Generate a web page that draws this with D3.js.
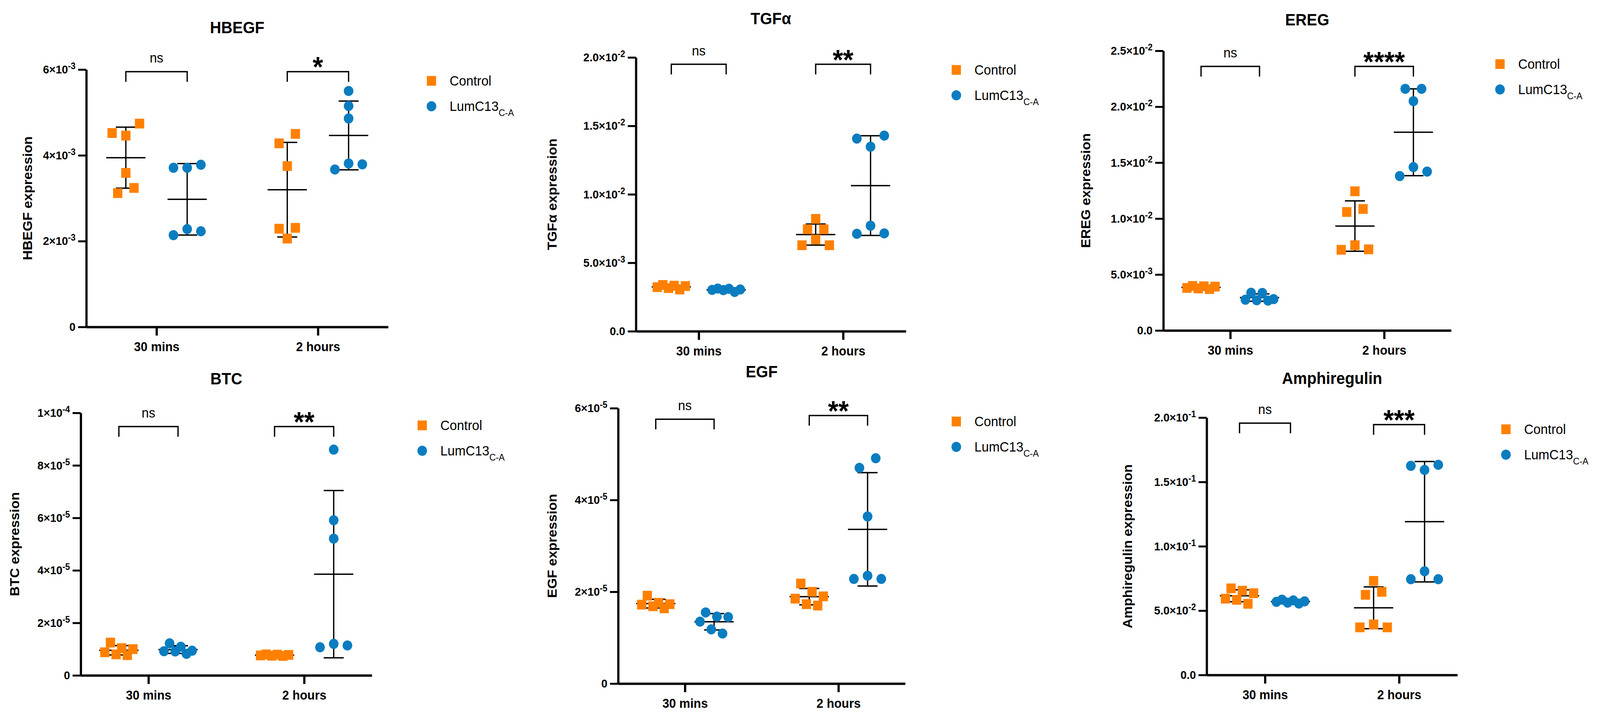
<!DOCTYPE html>
<html>
<head>
<meta charset="utf-8">
<script src="https://cdn.jsdelivr.net/npm/d3@7"></script>
<style>
  html, body { margin: 0; padding: 0; background: #fff; overflow: hidden; }
  svg { display: block; width: 100vw; height: 100vh; font-family: "Liberation Sans", Arial, sans-serif; }
</style>
</head>
<body>
<svg id="chart" viewBox="0 0 4320 1833" preserveAspectRatio="none"></svg>
<script>
// Categories and series
const categories = ["30 mins", "2 hours"];
const seriesNames = ["Control", "LumC13"];
const seriesSubs = ["", "C-A"];
const seriesColors = ["#FF8000", "#0A7DC0"];

// Values, one inner list per time point
const hbegfControl = [[4.74e-3, 4.52e-3, 4.46e-3, 3.59e-3, 3.24e-3, 3.12e-3], [4.50e-3, 4.28e-3, 3.75e-3, 2.31e-3, 2.29e-3, 2.06e-3]];
const hbegfLumC    = [[3.78e-3, 3.71e-3, 3.71e-3, 2.28e-3, 2.23e-3, 2.14e-3], [5.50e-3, 5.15e-3, 4.86e-3, 3.81e-3, 3.79e-3, 3.67e-3]];

const tgfControl = [[3.15e-3, 3.38e-3, 3.30e-3, 3.05e-3, 3.33e-3, 3.22e-3], [8.21e-3, 7.45e-3, 7.45e-3, 6.70e-3, 6.28e-3, 6.28e-3]];
const tgfLumC    = [[3.05e-3, 3.10e-3, 3.00e-3, 3.12e-3, 2.87e-3, 3.02e-3], [14.29e-3, 14.07e-3, 13.48e-3, 7.71e-3, 7.15e-3, 7.12e-3]];

const eregControl = [[3.75e-3, 3.98e-3, 3.95e-3, 3.70e-3, 3.92e-3, 3.80e-3], [12.44e-3, 10.86e-3, 10.59e-3, 7.62e-3, 7.21e-3, 7.25e-3]];
const eregLumC    = [[3.37e-3, 3.35e-3, 2.70e-3, 2.75e-3, 2.67e-3, 2.80e-3], [21.6e-3, 21.6e-3, 20.5e-3, 14.6e-3, 14.2e-3, 13.8e-3]];

const btcControl = [[1.25e-5, 1.04e-5, 1.00e-5, 0.88e-5, 0.80e-5, 0.77e-5], [0.80e-5, 0.78e-5, 0.76e-5, 0.74e-5, 0.79e-5, 0.75e-5]];
const btcLumC    = [[0.92e-5, 1.22e-5, 0.91e-5, 1.09e-5, 0.82e-5, 0.94e-5], [8.60e-5, 5.91e-5, 5.21e-5, 1.20e-5, 1.14e-5, 1.07e-5]];

const egfControl = [[1.685e-5, 1.76e-5, 1.72e-5, 1.73e-5, 1.915e-5, 1.64e-5], [2.18e-5, 2.00e-5, 1.90e-5, 1.85e-5, 1.73e-5, 1.70e-5]];
const egfLumC    = [[1.35e-5, 1.55e-5, 1.45e-5, 1.46e-5, 1.18e-5, 1.09e-5], [4.91e-5, 4.70e-5, 3.64e-5, 2.35e-5, 2.28e-5, 2.28e-5]];

const amphControl = [[6.73e-2, 6.55e-2, 6.35e-2, 5.93e-2, 5.84e-2, 5.53e-2], [7.31e-2, 6.46e-2, 6.23e-2, 3.93e-2, 3.70e-2, 3.70e-2]];
const amphLumC    = [[5.80e-2, 5.72e-2, 5.85e-2, 5.55e-2, 5.62e-2, 5.68e-2], [16.33e-2, 16.25e-2, 15.93e-2, 8.06e-2, 7.44e-2, 7.44e-2]];

// Tick values and labels ("^" marks the exponent)
const hbegfTicks = [0, 2e-3, 4e-3, 6e-3];
const hbegfTickLabels = ["0", "2×10^-3", "4×10^-3", "6×10^-3"];
const tgfTicks = [0, 5e-3, 1e-2, 1.5e-2, 2e-2];
const tgfTickLabels = ["0.0", "5.0×10^-3", "1.0×10^-2", "1.5×10^-2", "2.0×10^-2"];
const eregTicks = [0, 5e-3, 1e-2, 1.5e-2, 2e-2, 2.5e-2];
const eregTickLabels = ["0.0", "5.0×10^-3", "1.0×10^-2", "1.5×10^-2", "2.0×10^-2", "2.5×10^-2"];
const btcTicks = [0, 2e-5, 4e-5, 6e-5, 8e-5, 1e-4];
const btcTickLabels = ["0", "2×10^-5", "4×10^-5", "6×10^-5", "8×10^-5", "1×10^-4"];
const egfTicks = [0, 2e-5, 4e-5, 6e-5];
const egfTickLabels = ["0", "2×10^-5", "4×10^-5", "6×10^-5"];
const amphTicks = [0, 5e-2, 1e-1, 1.5e-1, 2e-1];
const amphTickLabels = ["0.0", "5.0×10^-2", "1.0×10^-1", "1.5×10^-1", "2.0×10^-1"];

// Significance labels and bracket heights (data units)
const hbegfSig = ["ns", "*"],    hbegfBracket = [5.95e-3, 5.95e-3];
const tgfSig = ["ns", "**"],     tgfBracket = [1.95e-2, 1.95e-2];
const eregSig = ["ns", "****"],  eregBracket = [2.36e-2, 2.36e-2];
const btcSig = ["ns", "**"],     btcBracket = [9.48e-5, 9.48e-5];
const egfSig = ["ns", "**"],     egfBracket = [5.76e-5, 5.84e-5];
const amphSig = ["ns", "***"],   amphBracket = [1.957e-1, 1.945e-1];

const panels = [
  {title: "HBEGF", yLabel: "HBEGF expression", series: [hbegfControl, hbegfLumC], ticks: hbegfTicks, tickLabels: hbegfTickLabels, sig: hbegfSig, bracket: hbegfBracket},
  {title: "TGFα", yLabel: "TGFα expression", series: [tgfControl, tgfLumC], ticks: tgfTicks, tickLabels: tgfTickLabels, sig: tgfSig, bracket: tgfBracket},
  {title: "EREG", yLabel: "EREG expression", series: [eregControl, eregLumC], ticks: eregTicks, tickLabels: eregTickLabels, sig: eregSig, bracket: eregBracket},
  {title: "BTC", yLabel: "BTC expression", series: [btcControl, btcLumC], ticks: btcTicks, tickLabels: btcTickLabels, sig: btcSig, bracket: btcBracket},
  {title: "EGF", yLabel: "EGF expression", series: [egfControl, egfLumC], ticks: egfTicks, tickLabels: egfTickLabels, sig: egfSig, bracket: egfBracket},
  {title: "Amphiregulin", yLabel: "Amphiregulin expression", series: [amphControl, amphLumC], ticks: amphTicks, tickLabels: amphTickLabels, sig: amphSig, bracket: amphBracket}
];

// Where each panel sits on the page
const frames = [
  {x0: 233,  x1: 1048, yTop: 178,  yBot: 837,  titleY: 70,  legX: 1165, legY: 207,  ylabX: 74},
  {x0: 1717, x1: 2446, yTop: 147,  yBot: 848,  titleY: 47,  legX: 2582, legY: 179,  ylabX: 1491},
  {x0: 3141, x1: 3918, yTop: 130,  yBot: 846,  titleY: 50,  legX: 4050, legY: 164,  ylabX: 2931},
  {x0: 218,  x1: 1004, yTop: 1057, yBot: 1729, titleY: 969, legX: 1140, legY: 1089, ylabX: 39},
  {x0: 1669, x1: 2444, yTop: 1045, yBot: 1750, titleY: 951, legX: 2582, legY: 1079, ylabX: 1491},
  {x0: 3258, x1: 3935, yTop: 1069, yBot: 1728, titleY: 968, legX: 4066, legY: 1099, ylabX: 3044}
];

const markerSize = 25;

// Spread points that would overlap, roughly like Prism does
function spread(values, y) {
  const mean = d3.mean(values);
  const pts = values.map(v => ({v: v, py: y(v), dx: 0}));
  const sorted = pts.slice().sort((a, b) => a.py - b.py);
  const clusters = [];
  sorted.forEach((p, i) => {
    if (i && p.py - sorted[i - 1].py < markerSize) clusters[clusters.length - 1].push(p);
    else clusters.push([p]);
  });
  clusters.forEach(c => {
    if (c.length === 2) {
      c[0].dx = 22; c[1].dx = -22;
    } else if (c.length === 3) {
      const mid = c.slice().sort((a, b) => Math.abs(a.v - mean) - Math.abs(b.v - mean))[0];
      const rest = c.filter(p => p !== mid);
      rest[0].dx = 37; rest[1].dx = -37;
    } else if (c.length > 3) {
      const n = c.length;
      const order = d3.range(1, n, 2).concat(d3.range(0, n, 2));
      c.forEach((p, k) => { p.dx = -38 + order[k] * (76 / (n - 1)); });
    }
  });
  return pts;
}

function drawPanel(svg, p, f) {
  const g = svg.append("g");

  const x = d3.scalePoint().domain(categories).range([f.x0, f.x1]).padding(0.435);
  const y = d3.scaleLinear().domain([0, d3.max(p.ticks)]).range([f.yBot, f.yTop]);
  const off = x.step() * 0.19;
  const groupX = (c, s) => x(c) + (s === 0 ? -off : off);

  // Y axis
  const yAxis = g.append("g")
    .attr("transform", `translate(${f.x0},0)`)
    .call(d3.axisLeft(y).tickValues(p.ticks).tickSize(22).tickSizeOuter(0).tickPadding(7));
  yAxis.attr("font-family", null).attr("font-size", 30).attr("font-weight", "bold");
  yAxis.select(".domain").attr("stroke", "#000").attr("stroke-width", 6);
  yAxis.selectAll(".tick line").attr("stroke", "#000").attr("stroke-width", 5);
  yAxis.selectAll(".tick text").attr("fill", "#000").each(function(d, i) {
    const parts = p.tickLabels[i].split("^");
    const t = d3.select(this).text(parts[0]);
    if (parts[1]) t.append("tspan").attr("font-size", 23).attr("dy", -11).text(parts[1]);
  });

  // X axis
  const xAxis = g.append("g")
    .attr("transform", `translate(0,${f.yBot})`)
    .call(d3.axisBottom(x).tickSize(22).tickSizeOuter(0).tickPadding(17));
  xAxis.attr("font-family", null).attr("font-size", 33).attr("font-weight", "bold");
  xAxis.select(".domain").attr("stroke", "#000").attr("stroke-width", 6);
  xAxis.selectAll(".tick line").attr("stroke", "#000").attr("stroke-width", 6);
  xAxis.selectAll(".tick text").attr("fill", "#000");

  // Mean +/- SD bars
  p.series.forEach((ser, s) => {
    ser.forEach((vals, ci) => {
      const cx = groupX(categories[ci], s);
      const m = d3.mean(vals), sd = d3.deviation(vals);
      const bar = g.append("g").attr("stroke", "#000").attr("stroke-width", 3.5);
      bar.append("line").attr("x1", cx).attr("x2", cx).attr("y1", y(m - sd)).attr("y2", y(m + sd));
      [m - sd, m + sd].forEach(v => {
        bar.append("line").attr("x1", cx - 27).attr("x2", cx + 27).attr("y1", y(v)).attr("y2", y(v));
      });
      bar.append("line").attr("x1", cx - 53).attr("x2", cx + 53).attr("y1", y(m)).attr("y2", y(m));
    });
  });

  // Points
  p.series.forEach((ser, s) => {
    ser.forEach((vals, ci) => {
      const cx = groupX(categories[ci], s);
      const pts = spread(vals, y);
      if (s === 0) {
        g.selectAll(null).data(pts).enter().append("rect")
          .attr("x", d => cx + d.dx - markerSize / 2)
          .attr("y", d => d.py - markerSize / 2)
          .attr("width", markerSize).attr("height", markerSize)
          .attr("fill", seriesColors[0]);
      } else {
        g.selectAll(null).data(pts).enter().append("circle")
          .attr("cx", d => cx + d.dx)
          .attr("cy", d => d.py)
          .attr("r", 13)
          .attr("fill", seriesColors[1]);
      }
    });
  });

  // Significance brackets
  categories.forEach((c, ci) => {
    const xa = groupX(c, 0), xb = groupX(c, 1);
    const yb = y(p.bracket[ci]);
    g.append("path")
      .attr("d", `M${xa},${yb + 26}V${yb}H${xb}V${yb + 26}`)
      .attr("fill", "none").attr("stroke", "#000").attr("stroke-width", 3.5);
    const label = p.sig[ci];
    const isNs = label === "ns";
    g.append("text")
      .attr("x", (xa + xb) / 2)
      .attr("y", isNs ? yb - 23 : yb + 13)
      .attr("text-anchor", "middle")
      .attr("font-size", isNs ? 35 : 72)
      .attr("font-weight", isNs ? "normal" : "bold")
      .text(label);
  });

  // Title
  g.append("text")
    .attr("x", (f.x0 + f.x1) / 2)
    .attr("y", f.titleY + 15)
    .attr("text-anchor", "middle")
    .attr("font-size", 42).attr("font-weight", "bold")
    .text(p.title);

  // Y axis label
  g.append("text")
    .attr("transform", `translate(${f.ylabX},${(f.yTop + f.yBot) / 2}) rotate(-90)`)
    .attr("dy", "0.35em")
    .attr("text-anchor", "middle")
    .attr("font-size", 35).attr("font-weight", "bold")
    .text(p.yLabel);

  // Legend
  const leg = g.append("g");
  seriesNames.forEach((name, s) => {
    const ly = f.legY + s * 65;
    if (s === 0) {
      leg.append("rect").attr("x", f.legX - markerSize / 2).attr("y", ly - markerSize / 2)
        .attr("width", markerSize).attr("height", markerSize).attr("fill", seriesColors[0]);
    } else {
      leg.append("circle").attr("cx", f.legX).attr("cy", ly).attr("r", 13).attr("fill", seriesColors[1]);
    }
    const t = leg.append("text").attr("x", f.legX + 49).attr("y", ly + 12.5).attr("font-size", 35).text(name);
    if (seriesSubs[s]) t.append("tspan").attr("font-size", 24).attr("dy", 13).text(seriesSubs[s]);
  });
}

const svg = d3.select("#chart");
svg.append("rect").attr("width", 4320).attr("height", 1833).attr("fill", "#fff");
panels.forEach((p, i) => drawPanel(svg, p, frames[i]));
</script>
</body>
</html>
